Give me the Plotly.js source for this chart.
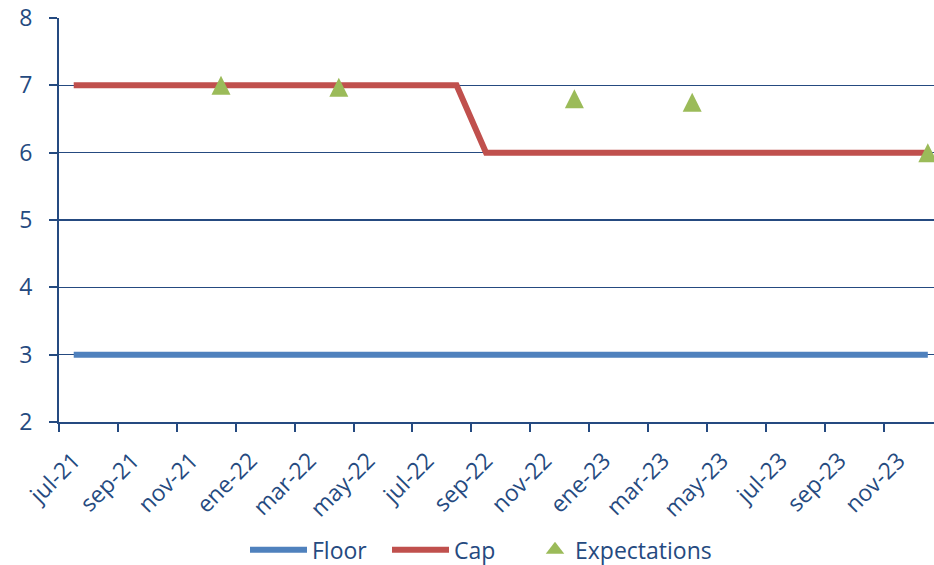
<!DOCTYPE html>
<html>
<head>
<meta charset="utf-8">
<script src="https://cdn.plot.ly/plotly-3.0.1.min.js"></script>
<style>html,body{margin:0;padding:0;background:#fff;}#chart{width:934px;height:565px;}</style>
</head>
<body>
<div id="chart"></div>
<script>
const months = ['jul-21','ago-21','sep-21','oct-21','nov-21','dic-21','ene-22','feb-22','mar-22','abr-22','may-22','jun-22',
  'jul-22','ago-22','sep-22','oct-22','nov-22','dic-22','ene-23','feb-23','mar-23','abr-23','may-23','jun-23',
  'jul-23','ago-23','sep-23','oct-23','nov-23','dic-23'];
const floorVals = [3,3,3,3,3,3,3,3,3,3,3,3,3,3,3,3,3,3,3,3,3,3,3,3,3,3,3,3,3,3];
const capVals = [7,7,7,7,7,7,7,7,7,7,7,7,7,7,6,6,6,6,6,6,6,6,6,6,6,6,6,6,6,6];
const expectVals = [null,null,null,null,null,7.0,null,null,null,6.97,null,null,
  null,null,null,null,null,6.8,null,null,null,6.75,null,null,
  null,null,null,null,null,6.0];

const navy = '#254A80';
const fontFam = '"Open Sans", Lato, sans-serif';
const yRange = [2, 8];
const plotH = 404;           // plot area height in px
const triSize = 19;          // arrow-up marker: width = height = triSize, tip at the data point
// shift the marker axis so the triangle's centre (not its tip) sits on the value
const triShift = (triSize / 2) * (yRange[1] - yRange[0]) / plotH;

const traces = [
  {x: months, y: floorVals, name: 'Floor', type: 'scatter', mode: 'lines',
   line: {color: '#4F81BD', width: 6}, legend: 'legend'},
  {x: months, y: capVals, name: 'Cap', type: 'scatter', mode: 'lines',
   line: {color: '#C0504D', width: 6}, legend: 'legend2'},
  {x: months, y: expectVals, name: 'Expectations', type: 'scatter', mode: 'markers', yaxis: 'y2',
   marker: {symbol: 'arrow-up', color: '#9BBB59', size: triSize, line: {width: 0}},
   cliponaxis: false, showlegend: false},
  {x: [null], y: [null], name: 'Expectations', type: 'scatter', mode: 'markers',
   marker: {symbol: 'triangle-up', color: '#9BBB59', size: 16}, legend: 'legend3'}
];

function leg(px, iw) {
  return {orientation: 'h', xref: 'container', yref: 'container', x: px / 934, xanchor: 'left',
          y: 0.027, yanchor: 'middle', font: {size: 23, color: navy, family: fontFam},
          itemwidth: iw, bgcolor: 'rgba(0,0,0,0)'};
}

const layout = {
  width: 934, height: 565,
  margin: {l: 59, r: 0, t: 18, b: 143},
  paper_bgcolor: '#fff', plot_bgcolor: '#fff',
  font: {family: fontFam, color: navy, size: 22},
  showlegend: true,
  legend: leg(245, 57),
  legend2: leg(387, 57),
  legend3: leg(535, 30),
  xaxis: {type: 'category', range: [-0.5, 29.21], tickson: 'boundaries', dtick: 2, tick0: 0,
          tickangle: -45, ticks: 'outside', ticklen: 8, tickwidth: 2, tickcolor: navy,
          showline: true, linecolor: navy, linewidth: 2, showgrid: false, zeroline: false,
          ticklabelstandoff: 14,
          tickfont: {size: 23, color: navy, family: fontFam}},
  yaxis: {range: yRange, dtick: 1, tick0: 2, ticks: 'outside', ticklen: 8, tickwidth: 2,
          tickcolor: navy, showline: true, linecolor: navy, linewidth: 2,
          showgrid: true, gridcolor: navy, gridwidth: 1.4, zeroline: false,
          ticklabelstandoff: 12,
          tickfont: {size: 23, color: navy, family: fontFam}},
  yaxis2: {overlaying: 'y', range: [yRange[0] - triShift, yRange[1] - triShift], visible: false,
           showgrid: false, zeroline: false}
};

Plotly.newPlot('chart', traces, layout, {staticPlot: true, displayModeBar: false});
</script>
</body>
</html>
